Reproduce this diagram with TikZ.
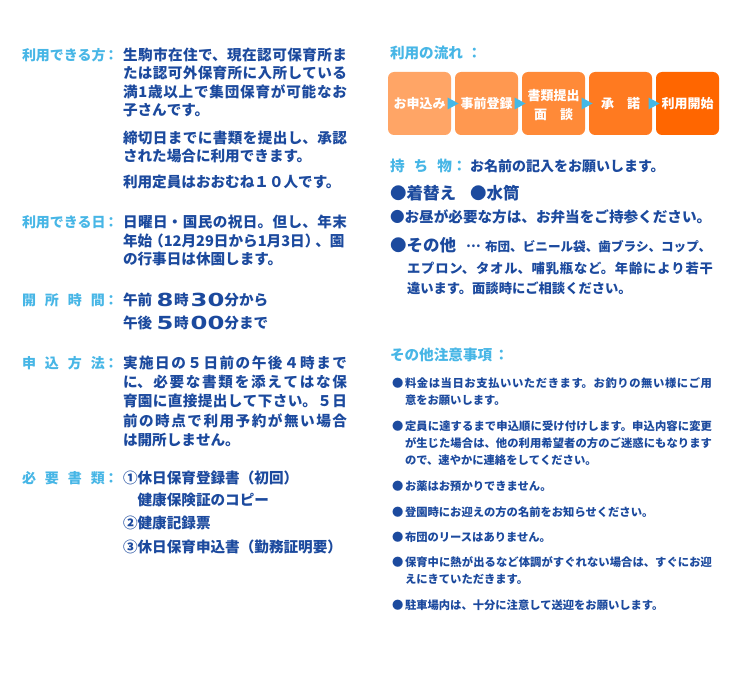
\documentclass[tikz,border=0pt]{standalone}
\usepackage{fontspec}
\usepackage{graphicx}
\setmainfont{Noto Sans CJK JP}
\newfontfamily\dgfont{DejaVu Sans}
\usetikzlibrary{calc}
\XeTeXlinebreaklocale "ja"
\XeTeXlinebreakskip=0pt plus 3pt minus 0.3pt
\definecolor{lbl}{HTML}{47B6E6}
\definecolor{txt}{HTML}{1C4A9E}
\definecolor{oa}{HTML}{FFA566}
\definecolor{ob}{HTML}{FF9850}
\definecolor{oc}{HTML}{FF8A38}
\definecolor{od}{HTML}{FF7A20}
\definecolor{oe}{HTML}{FF6600}
\definecolor{tri}{HTML}{45B8E6}
\newcommand{\dig}[1]{\raisebox{-1pt}{\scalebox{1.35}[1]{\dgfont\bfseries\fontsize{18}{18}\selectfont #1}}}
\tikzset{
  every node/.style={inner sep=0pt, outer sep=0pt},
  lab/.style={anchor=base west, text=lbl, font=\bfseries\fontsize{14}{14}\selectfont},
  rlab/.style={anchor=base west, text=lbl, font=\bfseries\fontsize{14.6}{14.6}\selectfont},
  body/.style={anchor=base west, text=txt, font=\bfseries\fontsize{14.6}{18.5}\selectfont},
  para/.style={body, text width=224pt, align=justify},
  small/.style={anchor=base west, text=txt, font=\bfseries\fontsize{11.3}{17}\selectfont},
  spara/.style={small, text width=307pt, align=justify},
  flowbox/.style={anchor=north west, minimum width=63pt, minimum height=63pt, rounded corners=6pt},
  boxtxt/.style={anchor=base, text=white, font=\bfseries\fontsize{13}{13}\selectfont},
  arrowtri/.style={fill=tri}
}
\begin{document}
\begin{tikzpicture}[x=1pt,y=-1pt]
\fill[white] (0,0) rectangle (740,693);
\useasboundingbox (0,0) rectangle (740,693);

% ---------- left column labels ----------
\node[lab] (l1) at (22,60.5) {利用できる方};
\node[lab] (l1c) at (104,60.5) {：};
\node[lab] (l2) at (22,227.5) {利用できる日};
\node[lab] (l2c) at (104,227.5) {：};
\node[lab] (l3) at (22,305.5) {\makebox[83pt][s]{開\hfil 所\hfil 時\hfil 間}};
\node[lab] (l3c) at (104,305.5) {：};
\node[lab] (l4) at (22,368.5) {\makebox[83pt][s]{申\hfil 込\hfil 方\hfil 法}};
\node[lab] (l4c) at (104,368.5) {：};
\node[lab] (l5) at (22,483.5) {\makebox[83pt][s]{必\hfil 要\hfil 書\hfil 類}};
\node[lab] (l5c) at (104,483.5) {：};

% ---------- left column texts ----------
\node[para] (t1) at (123,60.5) {生駒市在住で、現在認可保育所ま\linebreak たは認可外保育所に入所している\linebreak 満1歳以上で集団保育が可能なお\linebreak 子さんです。};
\node[para, font=\bfseries\fontsize{14.6}{17.5}\selectfont] (t2) at (123,143.5) {締切日までに書類を提出し、承認\linebreak された場合に利用できます。};
\node[body] (t3) at (123,187.5) {利用定員はおおむね１０人です。};
\node[para] (t4) at (123,227.5) {日曜日・国民の祝日。但し、年末\linebreak \mbox{年始\kern-3pt（12月29日から1月3日）\kern-4pt、園}\linebreak の行事日は休園します。};
\node[body] (t5) at (123,305.5) {午前\hspace{4.3pt}\dig{8}\hspace{0.6pt}時\hspace{2pt}\dig{30}分から};
\node[body] (t6) at (123,328.5) {午後\hspace{4.3pt}\dig{5}\hspace{0.6pt}時\hspace{2pt}\dig{00}分まで};
\node[para, font=\bfseries\fontsize{14.6}{19.2}\selectfont] (t7) at (123,368.5) {実施日の５日前の午後４時まで\linebreak に、必要な書類を添えてはな保\linebreak 育園に直接提出して下さい。５日\linebreak 前の時点で利用予約が無い場合\linebreak は開所しません。};
\node[body] (t8) at (123,483.5) {①休日保育登録書（初回）};
\node[body] (t9) at (123,505.5) {\phantom{①}健康保険証のコピー};
\node[body] (t10) at (123,528.5) {②健康記録票};
\node[body] (t11) at (123,552.5) {③休日保育申込書（勤務証明要）};

% ---------- right column: flow ----------
\node[rlab] (r1) at (390,58.3) {利用の流れ};
\node[rlab] (r1c) at (467,58.3) {：};

\node[flowbox, fill=oa] (b1) at (388,72) {};
\node[flowbox, fill=ob] (b2) at (455,72) {};
\node[flowbox, fill=oc] (b3) at (522,72) {};
\node[flowbox, fill=od] (b4) at (589,72) {};
\node[flowbox, fill=oe] (b5) at (656,72) {};

\node[boxtxt] (bt1) at ([yshift=-4.9pt]b1.center) {お申込み};
\node[boxtxt] (bt2) at ([yshift=-4.9pt]b2.center) {事前登録};
\node[boxtxt] (bt3a) at ([yshift=2.6pt]b3.center) {書類提出};
\node[boxtxt] (bt3b) at ([yshift=-16.4pt]b3.center) {面　談};
\node[boxtxt] (bt4) at ([yshift=-4.9pt]b4.center) {承　諾};
\node[boxtxt] (bt5) at ([yshift=-4.9pt]b5.center) {利用開始};

\coordinate (a1) at ($(b1.east)!0.5!(b2.west)$);
\coordinate (a2) at ($(b2.east)!0.5!(b3.west)$);
\coordinate (a3) at ($(b3.east)!0.5!(b4.west)$);
\coordinate (a4) at ($(b4.east)!0.5!(b5.west)$);
\foreach \a in {a1,a2,a3,a4}{
  \fill[arrowtri] ([xshift=-5.5pt,yshift=6pt]\a) -- ([xshift=5.5pt]\a) -- ([xshift=-5.5pt,yshift=-6pt]\a) -- cycle;
}

% ---------- right column: belongings ----------
\node[rlab] (r2) at (390,171.3) {\makebox[62pt][s]{持\hfil ち\hfil 物}};
\node[rlab] (r2c) at (452,171.3) {：};
\node[body, font=\bfseries\fontsize{14}{14}\selectfont] (r2t) at (470,171.3) {お名前の記入をお願いします。};

\node[body, font=\bfseries\fontsize{16.5}{16.5}\selectfont] (k1) at (390,199) {●着替え};
\node[body, font=\bfseries\fontsize{16.5}{16.5}\selectfont] (k2) at (470,199) {●水筒};
\node[body] (k3) at (390,222.3) {●お昼が必要な方は、お弁当をご持参ください。};
\node[body, font=\bfseries\fontsize{16.5}{16.5}\selectfont] (k4) at (390,251) {●その他};
\node[body, font=\bfseries\fontsize{13}{13}\selectfont] (k5) at (466,251) {\raisebox{4pt}{…}};
\node[body, text width=228pt, align=justify, font=\bfseries\fontsize{12.6}{12.6}\selectfont] (k6) at (485,251) {\parfillskip=0pt 布団、ビニール袋、歯ブラシ、コップ、};
\node[body, text width=306pt, align=justify, font=\bfseries\fontsize{13.3}{20}\selectfont] (k7) at (407,273) {エプロン、タオル、哺乳瓶など。年齢により若干\linebreak 違います。面談時にご相談ください。};

% ---------- right column: notes ----------
\node[rlab] (r3) at (390,360.3) {その他注意事項};
\node[rlab] (r3c) at (494,360.3) {：};

\node[small] (c1) at (392,387.3) {●};
\node[spara] (n1) at (405,387.3) {料金は当日お支払いいただきます。お釣りの無い様にご用\linebreak 意をお願いします。};
\node[small] (c2) at (392,430.3) {●};
\node[spara] (n2) at (405,430.3) {定員に達するまで申込順に受け付けします。申込内容に変更\linebreak が生じた場合は、他の利用希望者の方のご迷惑にもなります\linebreak ので、速やかに連絡をしてください。};
\node[small] (c3) at (392,490) {●};
\node[small] (n3) at (405,490) {お薬はお預かりできません。};
\node[small] (c4) at (392,516.3) {●};
\node[small] (n4) at (405,516.3) {登園時にお迎えの方の名前をお知らせください。};
\node[small] (c5) at (392,541.3) {●};
\node[small] (n5) at (405,541.3) {布団のリースはありません。};
\node[small] (c6) at (392,566.3) {●};
\node[spara] (n6) at (405,566.3) {保育中に熱が出るなど体調がすぐれない場合は、すぐにお迎\linebreak えにきていただきます。};
\node[small] (c7) at (392,609.3) {●};
\node[small] (n7) at (405,609.3) {駐車場内は、十分に注意して送迎をお願いします。};
\end{tikzpicture}
\end{document}
